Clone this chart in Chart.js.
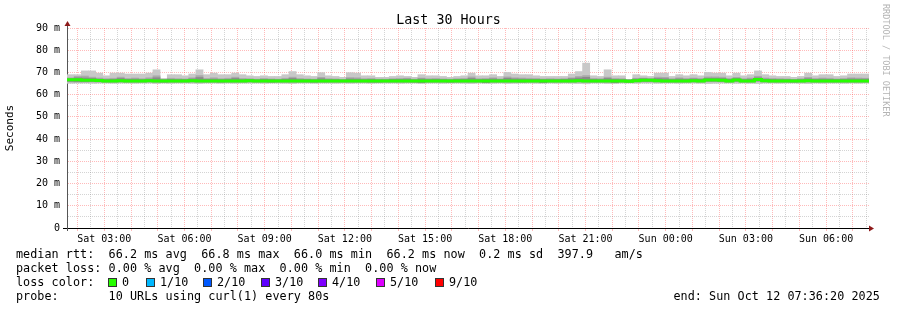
<!DOCTYPE html>
<html>
<head>
<meta charset="utf-8">
<script src="https://cdn.jsdelivr.net/npm/chart.js@4.4.0/dist/chart.umd.min.js"></script>
<style>
html,body{margin:0;padding:0;background:#fff;}
#wrap{position:relative;width:897px;height:310px;overflow:hidden;background:#fff;}
#c{position:absolute;left:0;top:0;}
.t{position:absolute;font-family:'DejaVu Sans Mono',monospace;white-space:pre;color:#000;font-size:11.75px;line-height:14px;letter-spacing:0.05px;}
#title{left:0;width:897px;text-align:center;top:12px;font-size:13.3px;line-height:16px;}
#wm{position:absolute;left:880px;top:4px;writing-mode:vertical-rl;font-family:'DejaVu Sans Mono',monospace;font-size:8.5px;color:#b4b4b4;white-space:pre;line-height:12px;}
.box{position:absolute;width:7px;height:7px;border:1px solid #333;}
</style>
</head>
<body>
<div id="wrap">
<canvas id="c" width="897" height="310"></canvas>
<div class="t" id="title">Last 30 Hours</div>
<div id="wm">RRDTOOL / TOBI OETIKER</div>
<div class="t" style="left:16px;top:247px">median rtt:  66.2 ms avg  66.8 ms max  66.0 ms min  66.2 ms now  0.2 ms sd  397.9   am/s</div>
<div class="t" style="left:16px;top:261px">packet loss: 0.00 % avg  0.00 % max  0.00 % min  0.00 % now</div>
<div class="t" style="left:16px;top:275px">loss color:</div>
<div id="loss"></div>
<div class="t" style="left:16px;top:289px">probe:       10 URLs using curl(1) every 80s</div>
<div class="t" style="right:17px;top:289px">end: Sun Oct 12 07:36:20 2025</div>
</div>
<script>
// ---------------- data ----------------
const periodHours = 30;                       // "Last 30 Hours"
const startClock = 1 + 36/60 + 20/3600;       // Sat 01:36:20 (end Sun 07:36:20)
const tickLabels = ['Sat 03:00','Sat 06:00','Sat 09:00','Sat 12:00','Sat 15:00','Sat 18:00','Sat 21:00','Sun 00:00','Sun 03:00','Sun 06:00'];
const tickClockHours = [3,6,9,12,15,18,21,24,27,30];
const yTickValues = [0,10,20,30,40,50,60,70,80,90];
const lossLabels = ['0','1/10','2/10','3/10','4/10','5/10','9/10'];
const lossColors = ['#26ff00','#00b8ff','#0059ff','#5e00ff','#7e00ff','#dd00ff','#ff0000'];

// per-bin round trip times (ms), 112 bins over 30 h
const rttMax = [
 69.0,69.0,70.7,70.7,69.7,68.5,69.7,69.7,69.3,69.3,
 69.3,69.7,71.2,67.3,69.0,69.0,68.5,69.3,71.2,69.0,
 69.7,69.0,69.0,69.7,69.0,68.5,68.2,68.5,68.2,68.2,
 69.0,70.4,69.0,68.5,68.2,69.9,68.5,68.2,67.8,69.9,
 69.7,68.5,68.5,67.8,67.8,68.2,68.5,68.2,67.8,69.0,
 68.5,68.5,68.2,67.8,68.2,68.5,69.7,68.5,68.5,69.0,
 68.2,70.0,69.3,69.0,69.0,68.5,68.2,68.2,68.2,68.2,
 69.3,70.4,74.2,68.5,68.2,71.2,68.5,68.5,66.7,69.0,
 68.5,68.2,69.7,69.7,68.2,69.0,68.5,69.0,68.5,70.0,
 69.7,69.7,68.5,69.7,68.5,69.0,70.7,69.0,68.5,68.2,
 68.2,67.8,68.2,69.7,68.5,69.0,69.0,68.2,68.5,69.3,
 69.3,69.3];
const rttMidHigh = [
 67.6,68.2,68.4,67.9,67.5,67.2,67.4,67.9,67.3,67.5,
 67.2,67.6,68.5,66.9,67.4,67.2,67.1,67.6,68.6,67.3,
 67.6,67.2,67.4,67.9,67.3,67.2,67.0,67.3,67.1,67.0,
 67.4,67.9,67.3,67.1,67.0,67.8,67.2,67.1,66.9,67.7,
 67.6,67.2,67.3,67.0,67.0,67.2,67.3,67.4,67.0,67.5,
 67.2,67.3,67.1,67.0,67.2,67.3,68.0,67.2,67.3,67.6,
 67.1,68.0,67.6,67.5,67.4,67.3,67.1,67.2,67.1,67.2,
 67.6,68.2,68.6,67.3,67.2,67.9,67.3,67.2,66.8,67.4,
 67.5,67.3,67.9,67.8,67.2,67.6,67.3,67.5,67.3,68.0,
 68.0,67.9,67.3,67.8,67.2,67.5,68.3,67.5,67.3,67.2,
 67.1,66.9,67.2,67.8,67.3,67.5,67.4,67.1,67.3,67.6,
 67.5,67.4];
const rttCoreHigh = [
 67.2,67.6,67.5,67.3,67.0,66.8,66.9,67.3,66.9,67.0,
 66.8,67.0,67.6,66.7,66.9,66.8,66.8,67.1,67.7,66.9,
 67.0,66.8,66.9,67.3,66.8,66.9,66.7,66.9,66.8,66.7,
 66.9,67.3,66.8,66.8,66.7,67.2,66.8,66.8,66.6,67.1,
 67.0,66.8,66.9,66.7,66.7,66.9,66.9,67.0,66.7,67.1,
 66.8,66.9,66.8,66.7,66.9,66.9,67.3,66.8,66.9,67.1,
 66.8,67.4,67.1,67.0,66.9,66.9,66.8,66.8,66.8,66.9,
 67.2,67.5,67.8,66.9,66.8,67.3,66.9,66.8,66.6,67.0,
 67.2,67.0,67.3,67.2,66.8,67.1,66.9,67.1,66.9,67.4,
 67.4,67.3,66.9,67.3,66.8,67.0,67.6,67.0,66.9,66.8,
 66.8,66.7,66.8,67.2,66.9,67.0,66.9,66.8,66.9,67.1,
 67.0,67.0];
const rttMedian = [
 66.7,66.7,66.5,66.5,66.4,66.2,66.2,66.3,66.2,66.2,
 66.2,66.3,66.2,66.1,66.2,66.2,66.2,66.3,66.2,66.2,
 66.2,66.1,66.2,66.2,66.2,66.3,66.2,66.2,66.1,66.2,
 66.2,66.2,66.2,66.2,66.1,66.2,66.2,66.2,66.2,66.2,
 66.2,66.2,66.1,66.1,66.2,66.2,66.2,66.2,66.1,66.2,
 66.2,66.2,66.2,66.1,66.2,66.2,66.2,66.2,66.2,66.2,
 66.2,66.2,66.2,66.1,66.2,66.2,66.2,66.2,66.2,66.2,
 66.2,66.3,66.2,66.2,66.2,66.2,66.1,66.2,66.0,66.3,
 66.5,66.5,66.3,66.2,66.2,66.2,66.2,66.3,66.2,66.6,
 66.6,66.5,66.2,66.6,66.2,66.2,66.8,66.3,66.2,66.2,
 66.2,66.1,66.2,66.3,66.2,66.2,66.2,66.2,66.2,66.2,
 66.2,66.2];
const rttCoreLow = [
 66.0,65.9,65.9,66.0,65.9,65.8,65.8,65.9,65.8,65.8,
 65.8,65.9,65.8,65.7,65.8,65.8,65.8,65.9,65.8,65.8,
 65.8,65.7,65.8,65.8,65.8,65.9,65.8,65.8,65.7,65.8,
 65.8,65.8,65.8,65.8,65.7,65.8,65.8,65.8,65.8,65.8,
 65.8,65.8,65.7,65.7,65.8,65.8,65.8,65.8,65.7,65.4,
 65.8,65.8,65.8,65.7,65.8,65.8,65.8,65.8,65.4,65.8,
 65.8,65.8,65.8,65.7,65.8,65.8,65.4,65.8,65.8,65.8,
 65.8,65.9,65.8,65.8,65.8,65.8,65.4,65.8,65.6,65.9,
 66.0,66.0,65.9,65.8,65.8,65.8,65.8,65.9,65.8,66.1,
 66.1,66.0,65.8,66.1,65.8,65.8,66.2,65.9,65.8,65.8,
 65.8,65.7,65.8,65.9,65.8,65.8,65.8,65.8,65.8,65.8,
 65.8,65.8];
const rttMidLow = [
 65.7,65.6,65.6,65.7,65.6,65.5,65.5,65.6,65.5,65.5,
 65.5,65.6,65.5,65.4,65.5,65.5,65.5,65.6,65.5,65.5,
 65.5,65.4,65.5,65.5,65.5,65.6,65.5,65.5,65.4,65.5,
 65.5,65.5,65.5,65.5,65.4,65.5,65.5,65.5,65.5,65.5,
 65.5,65.5,65.4,65.4,65.5,65.5,65.5,65.5,65.4,65.3,
 65.5,65.5,65.5,65.4,65.5,65.5,65.5,65.5,65.3,65.5,
 65.5,65.5,65.5,65.4,65.5,65.5,65.3,65.5,65.5,65.5,
 65.5,65.6,65.5,65.5,65.5,65.5,65.3,65.5,65.4,65.6,
 65.7,65.7,65.6,65.5,65.5,65.5,65.5,65.6,65.5,65.8,
 65.8,65.7,65.5,65.8,65.5,65.5,65.9,65.6,65.5,65.5,
 65.5,65.4,65.5,65.6,65.5,65.5,65.5,65.5,65.5,65.5,
 65.5,65.5];
const rttMin = [
 65.1,65.2,65.2,65.1,65.2,65.2,65.1,65.2,65.2,65.1,
 65.2,65.2,65.0,65.2,65.1,65.2,65.2,65.1,65.0,65.2,
 65.2,65.1,65.2,65.1,65.2,65.2,65.2,65.1,65.2,65.2,
 65.1,65.0,65.2,65.2,65.1,65.2,65.2,65.1,65.2,65.1,
 65.2,65.2,65.1,65.2,65.2,65.2,65.1,65.2,65.2,65.1,
 65.2,65.2,65.1,65.2,65.2,65.1,65.0,65.2,65.2,65.1,
 65.2,65.0,65.1,65.2,65.2,65.1,65.2,65.2,65.1,65.2,
 65.1,65.0,64.9,65.2,65.2,65.0,65.1,65.2,65.2,65.1,
 65.2,65.2,65.1,65.2,65.2,65.1,65.2,65.2,65.1,65.0,
 65.1,65.2,65.2,65.1,65.2,65.1,65.0,65.2,65.2,65.1,
 65.2,65.2,65.1,65.0,65.2,65.1,65.2,65.2,65.1,65.2,
 65.1,65.2];

// ---------------- layout / style ----------------
const lossBoxX = [108,146,203,261,318,376,435];
const C_LIGHT = '#c8c8c8', C_MID = '#a9a9a9', C_DARK = '#8a8a8a', C_MED = '#26ff00';
const C_MAJOR = 'rgba(255,40,40,0.32)', C_MINOR = 'rgba(120,120,120,0.32)';

// legend boxes (HTML text)
const lossDiv = document.getElementById('loss');
lossLabels.forEach((lab, i) => {
  const b = document.createElement('div');
  b.className = 'box';
  b.style.left = lossBoxX[i] + 'px';
  b.style.top = '278px';
  b.style.background = lossColors[i];
  lossDiv.appendChild(b);
  const t = document.createElement('div');
  t.className = 't';
  t.style.left = (lossBoxX[i] + 14) + 'px';
  t.style.top = '275px';
  t.textContent = lab;
  lossDiv.appendChild(t);
});

const n = rttMedian.length;
const binH = periodHours / n;
const band = (lo, hi) => lo.map((v, i) => ({x: (i + 0.5) * binH, y: [v, hi[i]]}));
const medianPts = rttMedian.map((v, i) => ({x: i * binH, y: v}));
medianPts.push({x: periodHours, y: rttMedian[n - 1]});

const isHour = v => { const c = v + startClock; return Math.abs(c - Math.round(c)) < 1e-6; };

const arrows = {
  id: 'arrows',
  afterDraw(chart) {
    const {ctx, chartArea: a} = chart;
    ctx.save();
    ctx.lineWidth = 1;
    ctx.strokeStyle = '#555';
    ctx.beginPath(); ctx.moveTo(a.left + 0.5, a.top); ctx.lineTo(a.left + 0.5, a.top - 4); ctx.moveTo(a.left + 0.5, a.bottom); ctx.lineTo(a.left + 0.5, a.bottom + 3); ctx.stroke();
    ctx.strokeStyle = '#000';
    ctx.beginPath(); ctx.moveTo(a.left - 4, a.bottom + 0.5); ctx.lineTo(a.left, a.bottom + 0.5); ctx.moveTo(a.right, a.bottom + 0.5); ctx.lineTo(a.right + 2, a.bottom + 0.5); ctx.stroke();
    ctx.fillStyle = '#8e1a1a';
    ctx.beginPath(); ctx.moveTo(a.left - 2.5, a.top - 2); ctx.lineTo(a.left + 3.5, a.top - 2); ctx.lineTo(a.left + 0.5, a.top - 7); ctx.closePath(); ctx.fill();
    ctx.beginPath(); ctx.moveTo(a.right, a.bottom - 2.5); ctx.lineTo(a.right, a.bottom + 3.5); ctx.lineTo(a.right + 5, a.bottom + 0.5); ctx.closePath(); ctx.fill();
    ctx.restore();
  }
};

const mono = 'DejaVu Sans Mono';
new Chart(document.getElementById('c'), {
  type: 'bar',
  data: {
    datasets: [
      {type: 'line', data: medianPts, borderColor: C_MED, borderWidth: 3, stepped: true, pointRadius: 0, fill: false, order: 0, borderCapStyle: 'butt'},
      {data: band(rttCoreLow, rttCoreHigh), backgroundColor: C_DARK, grouped: false, barPercentage: 1, categoryPercentage: 1, borderWidth: 0, order: 1},
      {data: band(rttMidLow, rttMidHigh), backgroundColor: C_MID, grouped: false, barPercentage: 1, categoryPercentage: 1, borderWidth: 0, order: 2},
      {data: band(rttMin, rttMax), backgroundColor: C_LIGHT, grouped: false, barPercentage: 1, categoryPercentage: 1, borderWidth: 0, order: 3}
    ]
  },
  options: {
    responsive: false,
    animation: false,
    devicePixelRatio: 1,
    layout: {padding: {top: 28, right: 28, bottom: 0, left: 0}},
    plugins: {legend: {display: false}, tooltip: {enabled: false}, title: {display: false}},
    scales: {
      x: {
        type: 'linear', min: 0, max: periodHours, offset: false, z: 1,
        afterBuildTicks: s => {
          const t = [];
          for (let h = Math.ceil(startClock * 2) / 2; h <= startClock + periodHours + 1e-9; h += 0.5) t.push({value: h - startClock});
          s.ticks = t;
        },
        afterFit: s => { s.height = 82; },
        grid: {
          offset: false, lineWidth: 1, tickLength: 3,
          color: c => (c.tick && isHour(c.tick.value)) ? C_MAJOR : C_MINOR,
          tickColor: c => (c.tick && isHour(c.tick.value)) ? C_MAJOR : 'rgba(0,0,0,0)'
        },
        border: {display: true, color: '#000', width: 1, dash: [1, 1]},
        ticks: {
          autoSkip: false, maxRotation: 0, minRotation: 0, padding: 2,
          color: '#000', font: {family: mono, size: 10},
          callback: v => { const k = tickClockHours.indexOf(Math.round(v + startClock)); return (isHour(v) && k >= 0) ? tickLabels[k] : ''; }
        }
      },
      y: {
        type: 'linear', min: 0, max: 90, z: 1,
        afterFit: s => { s.width = 67; },
        grid: {
          lineWidth: 1, tickLength: 3,
          color: c => (c.tick && yTickValues.includes(c.tick.value)) ? C_MAJOR : C_MINOR,
          tickColor: 'rgba(0,0,0,0)'
        },
        border: {display: true, color: '#555', width: 1, dash: [1, 1]},
        ticks: {
          stepSize: 5, autoSkip: false, padding: 4, color: '#000', font: {family: mono, size: 10},
          callback: v => yTickValues.includes(v) ? (v === 0 ? '0' : v + ' m') : ''
        },
        title: {display: true, text: 'Seconds', color: '#000', font: {family: mono, size: 11}, padding: {top: 4, bottom: 0}}
      }
    }
  },
  plugins: [arrows]
});
</script>
</body>
</html>
